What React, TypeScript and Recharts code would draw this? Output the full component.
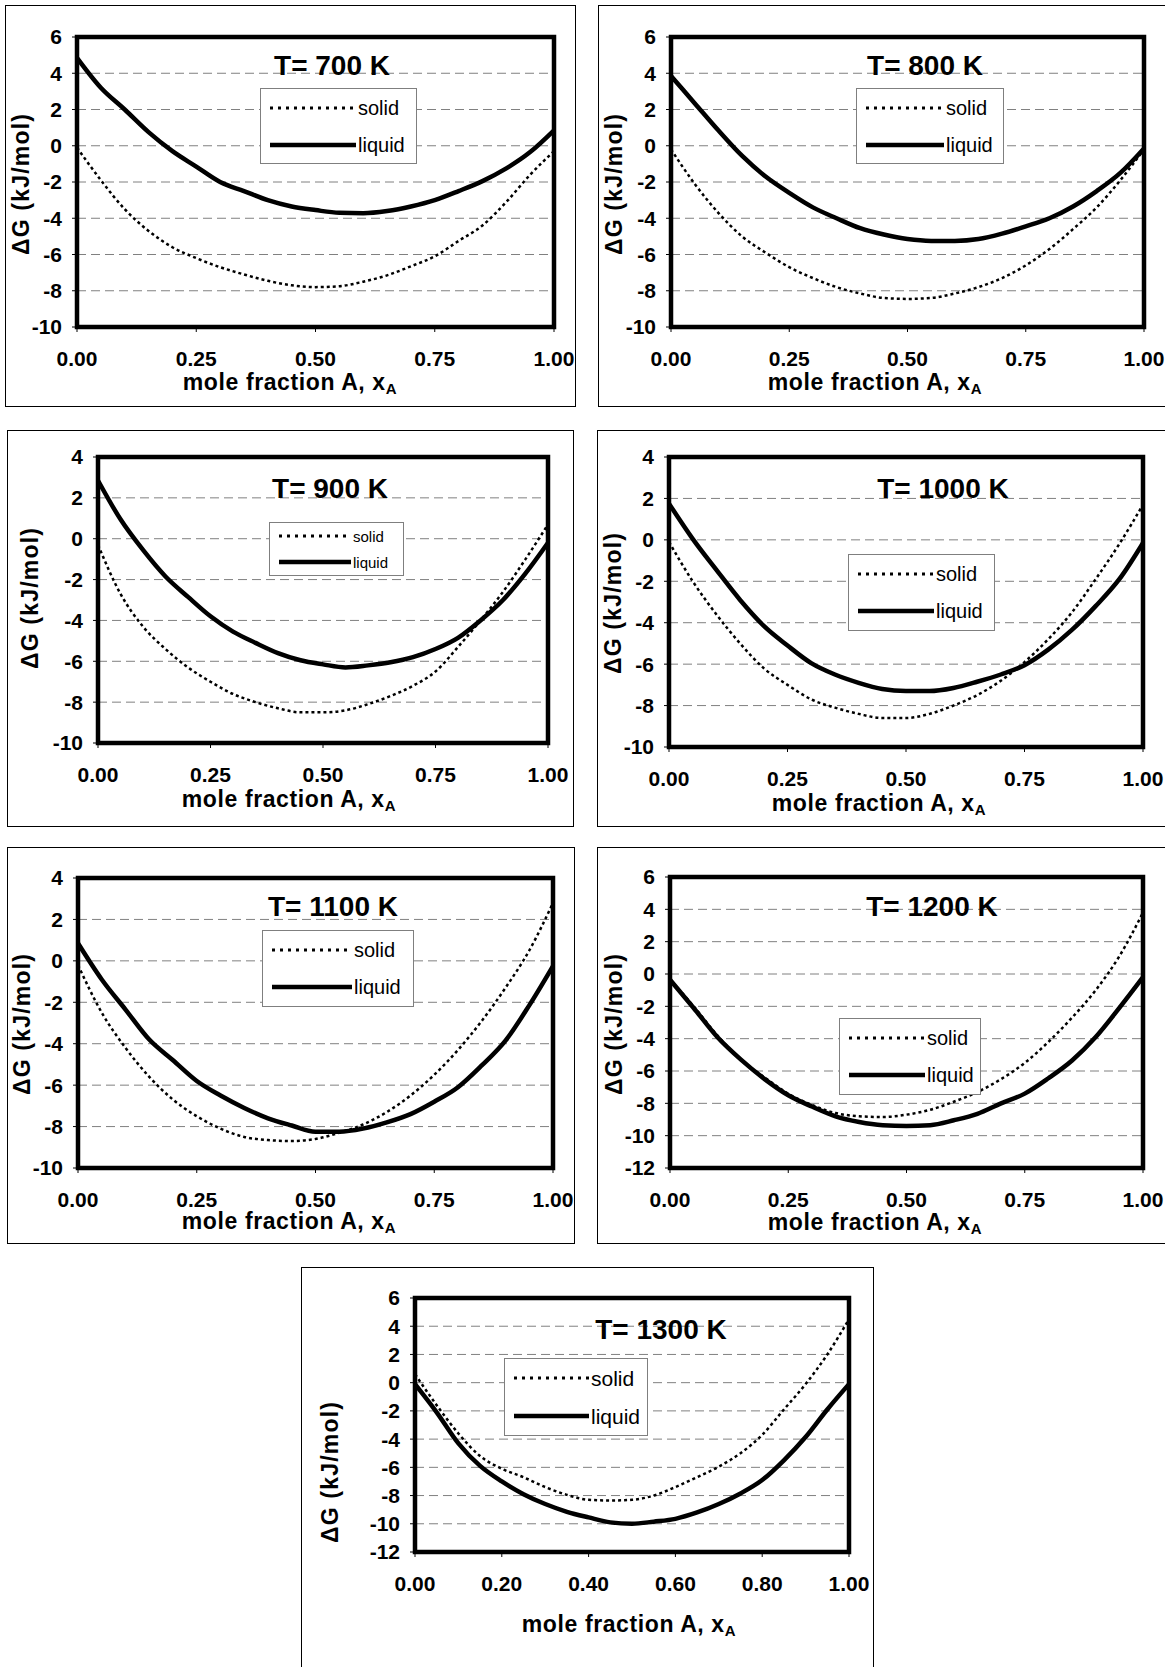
import React from "react";
import {
  CartesianGrid,
  Legend,
  Line,
  LineChart,
  ReferenceArea,
  XAxis,
  YAxis,
} from "recharts";

const FONT = '"Liberation Sans", Arial, Helvetica, sans-serif';

// mole fraction A
const xFrac = [
  0, 0.05, 0.1, 0.15, 0.2, 0.25, 0.3, 0.35, 0.4, 0.45, 0.5, 0.55, 0.6, 0.65, 0.7,
  0.75, 0.8, 0.85, 0.9, 0.95, 1,
];

// ΔG (kJ/mol)
const solid700 = [-0.1, -1.9, -3.5, -4.7, -5.6, -6.2, -6.7, -7.1, -7.45, -7.7, -7.8, -7.75, -7.5, -7.15, -6.65, -6.1, -5.25, -4.4, -3.1, -1.6, -0.3];
const liquid700 = [4.85, 3.2, 2.0, 0.75, -0.3, -1.15, -2.0, -2.5, -3.0, -3.35, -3.55, -3.7, -3.72, -3.6, -3.35, -3.0, -2.5, -1.95, -1.25, -0.35, 0.85];

const solid800 = [-0.2, -2.1, -3.7, -5.0, -5.9, -6.7, -7.3, -7.8, -8.15, -8.4, -8.45, -8.4, -8.15, -7.8, -7.3, -6.6, -5.7, -4.6, -3.4, -1.9, -0.2];
const liquid800 = [3.85, 2.35, 0.85, -0.55, -1.7, -2.6, -3.4, -4.0, -4.55, -4.9, -5.15, -5.25, -5.25, -5.15, -4.85, -4.45, -4.0, -3.35, -2.5, -1.5, -0.15];

const solid900 = [-0.3, -2.7, -4.3, -5.4, -6.3, -7.0, -7.6, -8.0, -8.3, -8.5, -8.5, -8.4, -8.1, -7.7, -7.2, -6.5, -5.3, -4.0, -2.6, -1.0, 0.7];
const liquid900 = [2.85, 0.95, -0.55, -1.85, -2.85, -3.8, -4.55, -5.1, -5.6, -5.95, -6.15, -6.3, -6.2, -6.05, -5.8, -5.4, -4.85, -4.0, -3.0, -1.7, -0.2];

const solid1000 = [-0.1, -2.0, -3.6, -5.0, -6.2, -7.0, -7.7, -8.1, -8.4, -8.6, -8.6, -8.4, -8.0, -7.5, -6.8, -5.9, -4.8, -3.5, -1.9, -0.2, 1.7];
const liquid1000 = [1.75, 0.05, -1.45, -2.9, -4.15, -5.1, -5.95, -6.5, -6.9, -7.2, -7.3, -7.3, -7.15, -6.85, -6.5, -6.05, -5.3, -4.35, -3.2, -1.9, -0.15];

const solid1100 = [-0.2, -2.5, -4.2, -5.6, -6.7, -7.5, -8.1, -8.5, -8.65, -8.7, -8.6, -8.3, -7.9, -7.3, -6.5, -5.5, -4.3, -2.9, -1.3, 0.5, 2.8];
const liquid1100 = [0.85, -0.9, -2.35, -3.8, -4.8, -5.8, -6.5, -7.1, -7.6, -7.95, -8.25, -8.25, -8.1, -7.8, -7.4, -6.8, -6.1, -5.05, -3.85, -2.15, -0.25];

const solid1200 = [-0.35, -2.0, -3.8, -5.3, -6.4, -7.4, -8.1, -8.6, -8.8, -8.85, -8.7, -8.4, -7.9, -7.3, -6.5, -5.5, -4.2, -2.7, -1.0, 1.1, 3.8];
const liquid1200 = [-0.35, -2.1, -3.9, -5.3, -6.5, -7.5, -8.2, -8.8, -9.15, -9.35, -9.4, -9.35, -9.05, -8.65, -8.0, -7.4, -6.45, -5.35, -3.9, -2.1, -0.2];

const solid1300 = [0.6, -1.6, -3.6, -5.2, -6.1, -6.7, -7.4, -7.95, -8.3, -8.35, -8.3, -8.0, -7.4, -6.7, -5.95, -5.0, -3.7, -1.9, -0.1, 2.0, 4.5];
const liquid1300 = [-0.1, -2.1, -4.3, -5.9, -7.0, -7.9, -8.6, -9.15, -9.55, -9.9, -10.0, -9.85, -9.65, -9.2, -8.6, -7.85, -6.9, -5.5, -3.85, -1.9, -0.1];

// tick labels
const yTicksTo6 = [-10, -8, -6, -4, -2, 0, 2, 4, 6];
const yTicksTo4 = [-10, -8, -6, -4, -2, 0, 2, 4];
const yTicksWide = [-12, -10, -8, -6, -4, -2, 0, 2, 4, 6];
const xTicksQuarter = [0, 0.25, 0.5, 0.75, 1];
const xTicksFifth = [0, 0.2, 0.4, 0.6, 0.8, 1];

const seriesOrder = ["solid", "liquid"];

type PanelCfg = {
  title: string;
  solid: number[];
  liquid: number[];
  yTicks: number[];
  xTicks: number[];
  box: [number, number, number, number];
  plot: [number, number, number, number];
  titleAt: [number, number];
  legend: [number, number, number, number, number, number];
  xTitleAt: [number, number];
  yTitleAt: [number, number];
};

const panels: PanelCfg[] = [
  {
    title: "T= 700 K", solid: solid700, liquid: liquid700, yTicks: yTicksTo6, xTicks: xTicksQuarter,
    box: [5, 5, 571, 402], plot: [77, 37, 554, 327], titleAt: [332, 66],
    legend: [260, 88, 157, 76, 20, 86], xTitleAt: [290, 382], yTitleAt: [21, 184],
  },
  {
    title: "T= 800 K", solid: solid800, liquid: liquid800, yTicks: yTicksTo6, xTicks: xTicksQuarter,
    box: [598, 5, 572, 402], plot: [671, 37, 1144, 327], titleAt: [925, 66],
    legend: [856, 88, 148, 76, 20, 78], xTitleAt: [875, 382], yTitleAt: [614, 184],
  },
  {
    title: "T= 900 K", solid: solid900, liquid: liquid900, yTicks: yTicksTo4, xTicks: xTicksQuarter,
    box: [7, 430, 567, 397], plot: [98, 457, 548, 743], titleAt: [330, 489],
    legend: [269, 522, 135, 54, 15, 72], xTitleAt: [289, 799], yTitleAt: [30, 598],
  },
  {
    title: "T= 1000 K", solid: solid1000, liquid: liquid1000, yTicks: yTicksTo4, xTicks: xTicksQuarter,
    box: [597, 430, 573, 397], plot: [669, 457, 1143, 747], titleAt: [943, 489],
    legend: [848, 554, 147, 77, 20, 76], xTitleAt: [879, 803], yTitleAt: [613, 603],
  },
  {
    title: "T= 1100 K", solid: solid1100, liquid: liquid1100, yTicks: yTicksTo4, xTicks: xTicksQuarter,
    box: [7, 847, 568, 397], plot: [78, 878, 553, 1168], titleAt: [333, 907],
    legend: [262, 930, 152, 77, 20, 80], xTitleAt: [289, 1221], yTitleAt: [22, 1024],
  },
  {
    title: "T= 1200 K", solid: solid1200, liquid: liquid1200, yTicks: yTicksWide, xTicks: xTicksQuarter,
    box: [597, 847, 573, 397], plot: [670, 877, 1143, 1168], titleAt: [932, 907],
    legend: [839, 1018, 142, 77, 20, 76], xTitleAt: [875, 1222], yTitleAt: [614, 1024],
  },
  {
    title: "T= 1300 K", solid: solid1300, liquid: liquid1300, yTicks: yTicksWide, xTicks: xTicksFifth,
    box: [301, 1267, 573, 402], plot: [415, 1298, 849, 1552], titleAt: [661, 1330],
    legend: [504, 1358, 144, 78, 21, 75], xTitleAt: [629, 1624], yTitleAt: [330, 1472],
  },
];

const tickStyle = { fontSize: 21, fontWeight: 700, fill: "#000", fontFamily: FONT };

function makeLegend(fontSize: number, sampleW: number) {
  return (props: any) => {
    const items = [...(props.payload || [])].sort(
      (a: any, b: any) => seriesOrder.indexOf(a.value) - seriesOrder.indexOf(b.value)
    );
    return (
      <div
        style={{
          width: "100%",
          height: "100%",
          boxSizing: "border-box",
          border: "1px solid #7f7f7f",
          background: "#fff",
          display: "flex",
          flexDirection: "column",
          justifyContent: "space-around",
          paddingLeft: 9,
        }}
      >
        {items.map((entry: any) => {
          const dotted = entry.value === "solid";
          return (
            <div
              key={entry.value}
              style={{ display: "flex", alignItems: "center", fontFamily: FONT, fontSize, color: "#000", lineHeight: 1 }}
            >
              <svg width={sampleW} height={8}>
                <line
                  x1={0}
                  y1={4}
                  x2={sampleW}
                  y2={4}
                  stroke="#000"
                  strokeWidth={dotted ? 2.8 : 4.5}
                  strokeDasharray={dotted ? "3 5" : undefined}
                />
              </svg>
              <span style={{ marginLeft: 2 }}>{entry.value}</span>
            </div>
          );
        })}
      </div>
    );
  };
}

function Panel({ p }: { p: PanelCfg }) {
  const [bx, by, bw, bh] = p.box;
  const ox = bx + 1;
  const oy = by + 1;
  const cw = bw - 2;
  const ch = bh - 2;
  const [pl, pt, pr, pb] = p.plot;
  const xAxisH = 40;
  const margin = { top: pt - oy, right: ox + cw - pr, left: 0, bottom: oy + ch - pb - xAxisH };
  const yMin = p.yTicks[0];
  const yMax = p.yTicks[p.yTicks.length - 1];
  const data = xFrac.map((x, i) => ({ x, solid: p.solid[i], liquid: p.liquid[i] }));
  const [lx, ly, lw, lh, lfs, lsw] = p.legend;

  return (
    <div
      style={{
        position: "absolute",
        left: bx,
        top: by,
        width: bw,
        height: bh,
        boxSizing: "border-box",
        border: "1px solid #000",
        background: "#fff",
      }}
    >
      <LineChart width={cw} height={ch} data={data} margin={margin}>
        <CartesianGrid vertical={false} stroke="#808080" strokeDasharray="9 5" />
        <XAxis
          dataKey="x"
          type="number"
          domain={[0, 1]}
          ticks={p.xTicks}
          interval={0}
          tickFormatter={(v: number) => v.toFixed(2)}
          height={xAxisH}
          axisLine={false}
          tickSize={5}
          tickMargin={19}
          tickLine={{ stroke: "#000" }}
          tick={tickStyle}
          label={() => (
            <text
              x={p.xTitleAt[0] - ox}
              y={p.xTitleAt[1] - oy}
              textAnchor="middle"
              dominantBaseline="central"
              fontFamily={FONT}
              fontSize={23}
              fontWeight={700}
              letterSpacing={0.6}
              fill="#000"
            >
              <tspan>mole fraction A, x</tspan>
              <tspan fontSize={15} dy={6}>A</tspan>
            </text>
          )}
        />
        <YAxis
          type="number"
          domain={[yMin, yMax]}
          ticks={p.yTicks}
          interval={0}
          allowDataOverflow
          width={pl - ox}
          axisLine={false}
          tickSize={5}
          tickMargin={10}
          tickLine={{ stroke: "#000" }}
          tick={tickStyle}
          label={() => (
            <text
              x={p.yTitleAt[0] - ox}
              y={p.yTitleAt[1] - oy}
              transform={`rotate(-90 ${p.yTitleAt[0] - ox} ${p.yTitleAt[1] - oy})`}
              textAnchor="middle"
              dominantBaseline="central"
              fontFamily={FONT}
              fontSize={23}
              fontWeight={700}
              letterSpacing={1.2}
              fill="#000"
            >
              ΔG (kJ/mol)
            </text>
          )}
        />
        <Line
          type="monotone"
          dataKey="solid"
          name="solid"
          stroke="#000"
          strokeWidth={2.5}
          strokeDasharray="3 3"
          dot={false}
          isAnimationActive={false}
        />
        <Line
          type="monotone"
          dataKey="liquid"
          name="liquid"
          stroke="#000"
          strokeWidth={4.5}
          dot={false}
          isAnimationActive={false}
        />
        <ReferenceArea
          x1={0}
          x2={1}
          y1={yMin}
          y2={yMax}
          fill="#fff"
          fillOpacity={0}
          stroke="#000"
          strokeWidth={4.5}
          ifOverflow="visible"
        />
        <Legend
          layout="vertical"
          align="center"
          verticalAlign="middle"
          wrapperStyle={{ left: lx - ox, top: ly - oy, width: lw, height: lh, bottom: "auto" }}
          content={makeLegend(lfs, lsw)}
        />
      </LineChart>
      <div
        style={{
          position: "absolute",
          left: p.titleAt[0] - ox,
          top: p.titleAt[1] - oy,
          transform: "translate(-50%, -50%)",
          fontFamily: FONT,
          fontSize: 28,
          fontWeight: 700,
          whiteSpace: "nowrap",
          color: "#000",
          pointerEvents: "none",
        }}
      >
        {p.title}
      </div>
    </div>
  );
}

export default function App() {
  return (
    <div
      style={{
        position: "absolute",
        left: 0,
        top: 0,
        width: 1165,
        height: 1667,
        overflow: "hidden",
        background: "#fff",
      }}
    >
      {panels.map((p) => (
        <Panel key={p.title} p={p} />
      ))}
    </div>
  );
}
